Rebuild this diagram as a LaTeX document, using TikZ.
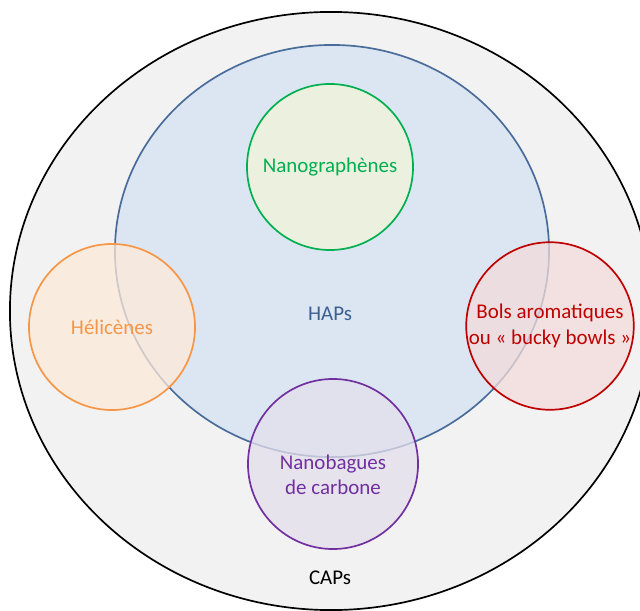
\documentclass[tikz,border=0pt]{standalone}
\usepackage{fontspec}
\setmainfont{Carlito}
\usetikzlibrary{positioning,shapes.geometric}

\definecolor{capsfill}{HTML}{F2F2F2}
\definecolor{hapsfill}{HTML}{DCE6F2}
\definecolor{hapsline}{HTML}{4A6C9B}
\definecolor{hapstext}{HTML}{3B5F8F}
\definecolor{nanoline}{HTML}{00B050}
\definecolor{nanofill}{HTML}{EBF1DE}
\definecolor{heliline}{HTML}{F79646}
\definecolor{helifill}{HTML}{FDE9D9}
\definecolor{bolsline}{HTML}{C00000}
\definecolor{bolsfill}{HTML}{F2DCDB}
\definecolor{bagueline}{HTML}{7030A0}
\definecolor{baguefill}{HTML}{E4DFEC}

\begin{document}
\begin{tikzpicture}[x=0.025cm,y=-0.025cm,line width=1.2pt,
    every node/.style={font=\fontsize{14.9}{18}\selectfont,inner sep=0pt,outer sep=0pt},
    family/.style={circle,draw,minimum size=4.15cm,fill opacity=0.75,text opacity=1,align=center}]
    \useasboundingbox (0,0) rectangle (640,611);
    \clip (0,0) rectangle (640,611);
    \node[ellipse,draw=black,fill=capsfill,minimum width=16.05cm,minimum height=14.95cm] (caps) at (331,311) {};
    \node[ellipse,draw=hapsline,fill=hapsfill,minimum width=10.85cm,minimum height=10.3cm] (haps) at (332,251) {};
    \node[text=black] (capstxt) at (330,578) {CAPs};
    \node[text=hapstext] (hapstxt) at (330,314) {HAPs};

    \node[family,draw=nanoline,fill=nanofill,fill opacity=1,text=nanoline] (nano) at (330,167) {Nanographènes};
    \node[family,draw=heliline,fill=helifill,text=heliline] (heli) at (112,327) {Hélicènes};
    \node[family,draw=bolsline,fill=bolsfill,text=bolsline] (bols) at (550,326) {Bols aromatiques\\ou « bucky bowls »};
    \node[family,draw=bagueline,fill=baguefill,minimum size=4.25cm] (bague) at (333,464) {};
    \node[text=bagueline,align=center] (baguetxt) at (333,475) {Nanobagues\\de carbone};
\end{tikzpicture}
\end{document}
